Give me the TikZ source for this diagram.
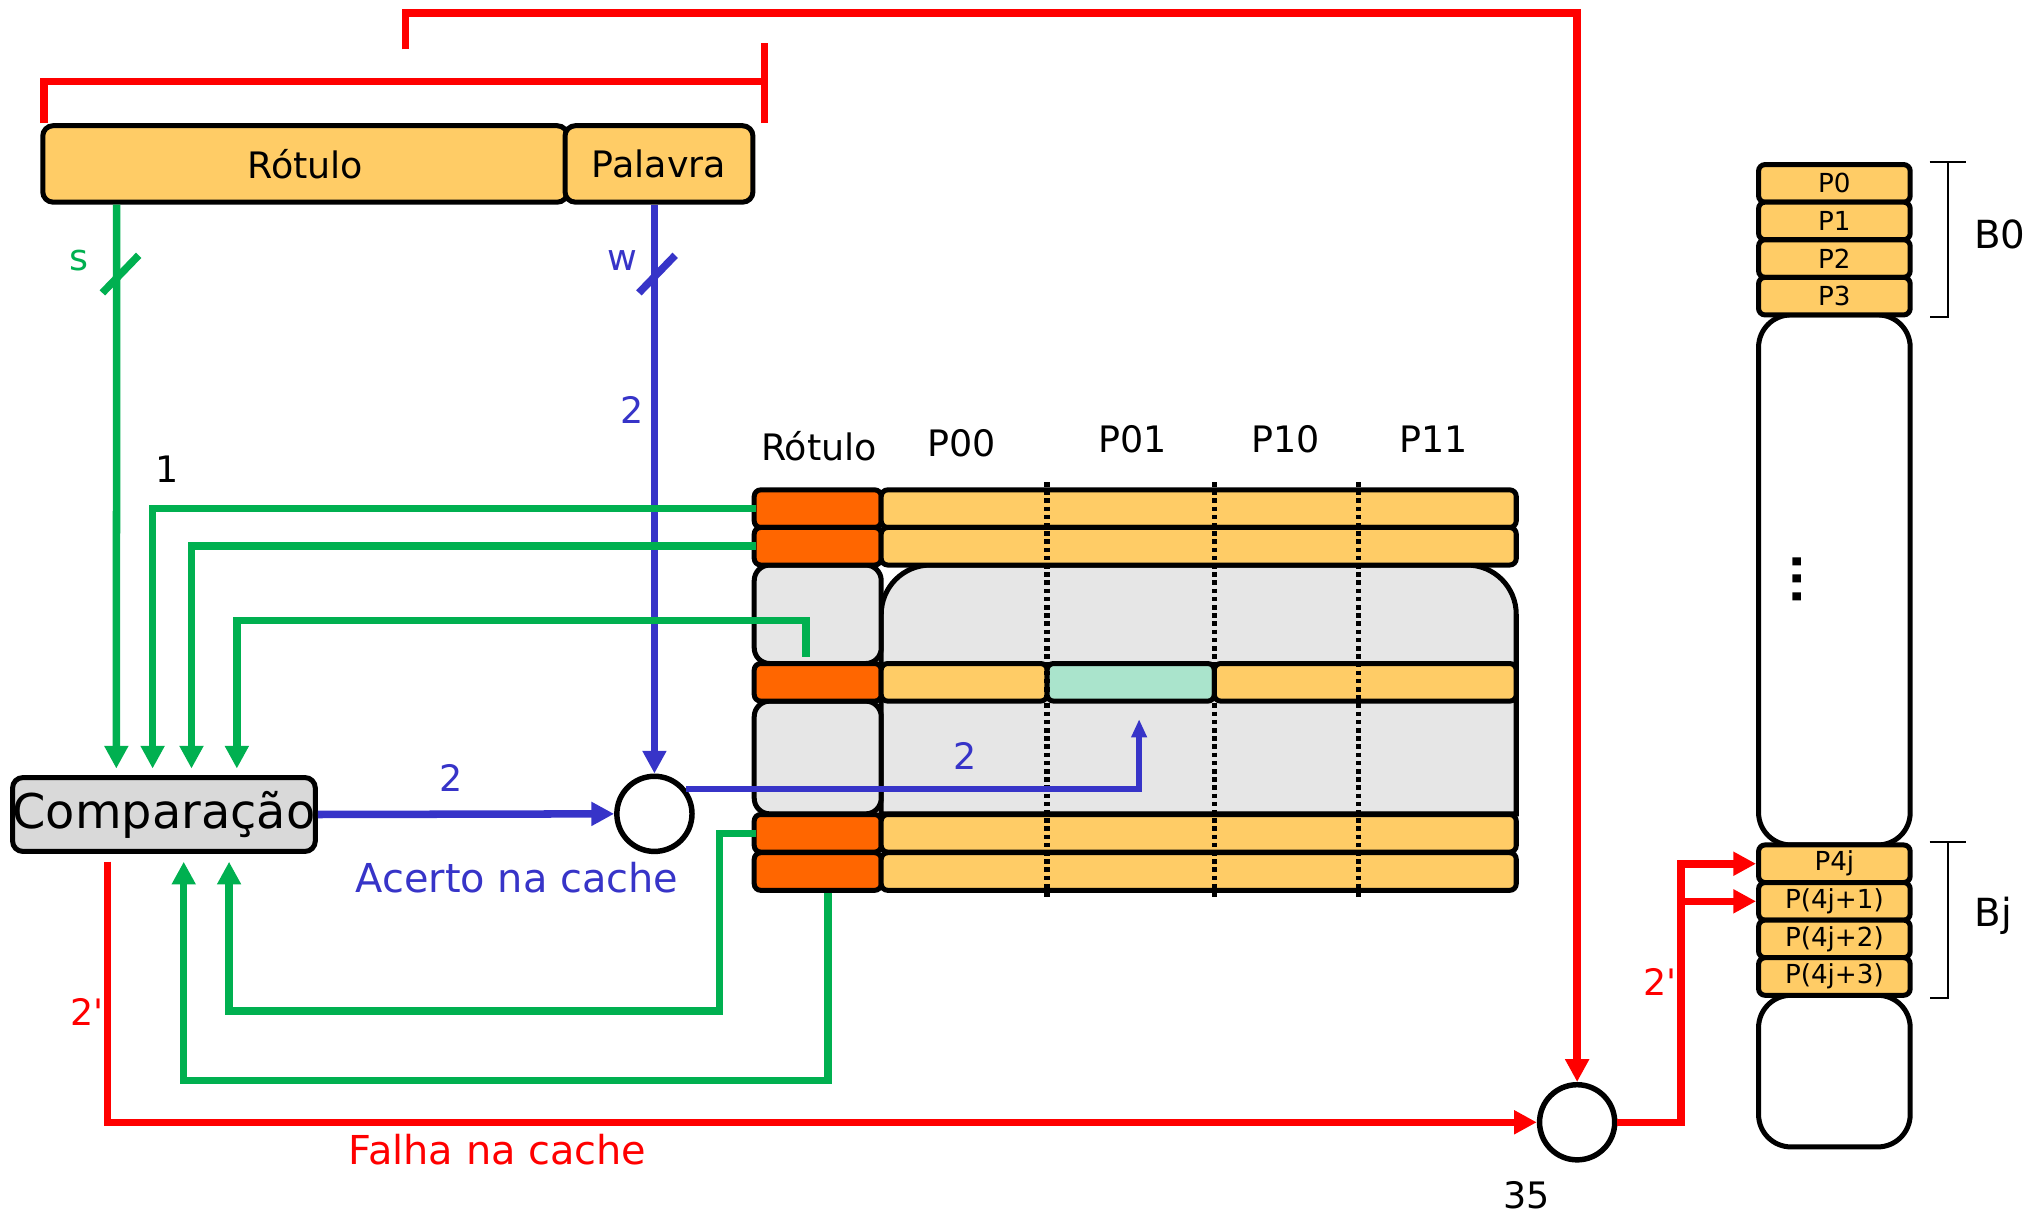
\documentclass[tikz,border=0pt]{standalone}
\usepackage{fontspec}
\setmainfont{DejaVu Sans}
\usetikzlibrary{arrows.meta,positioning,calc}
\definecolor{wheat}{RGB}{255,204,102}
\definecolor{tagred}{RGB}{255,102,0}
\definecolor{fog}{RGB}{230,230,230}
\definecolor{cmpgray}{RGB}{217,217,217}
\definecolor{mint}{RGB}{170,228,204}
\definecolor{leaf}{RGB}{0,176,80}
\definecolor{indigo}{RGB}{55,52,200}
\definecolor{signal}{RGB}{255,0,0}
\tikzset{
  >={Triangle[length=10pt,width=10pt]},
  field/.style={draw=black,fill=wheat,line width=2.2pt,rounded corners=1.6mm,inner sep=0pt,
    minimum height=11.8mm,font=\fontsize{16}{18}\selectfont},
  cell/.style={draw=black,fill=#1,line width=2.2pt,rounded corners=1mm,inner sep=0pt,minimum height=5.8mm},
  cell/.default=wheat,
  word/.style={cell,minimum width=23.4mm,font=\fontsize{11.5}{13}\selectfont},
  block/.style={draw=black,fill=white,line width=2.2pt,rounded corners=5mm,inner sep=0pt,minimum width=23.4mm},
  junction/.style={circle,draw=black,line width=2.4pt,fill=white,minimum size=11.6mm,inner sep=0pt},
  bus/.style={line width=3.3pt,draw=#1},
  bus/.default=leaf,
  lbl/.style={font=\fontsize{16}{18}\selectfont,text=#1,inner sep=0pt},
  lbl/.default=black,
  divider/.style={line width=2.3pt,dash pattern=on 2pt off 1.6pt},
  bline/.style={line width=0.9pt},
}

\begin{document}
\begin{tikzpicture}[x=0.2mm,y=-0.2mm]
  \useasboundingbox (0,0) rectangle (1568,936);
  % address fields
  \node[field,minimum width=81mm] (rot) at (235.5,126.5) {Rótulo};
  \node[field,minimum width=29mm] (pal) at (508.5,126.5) {Palavra};

  % cache lines
  \filldraw[fill=fog,line width=2.2pt] (680,628) -- (680,474) .. controls (680,453) and (697,436) .. (718,436)
    -- (1132,436) .. controls (1153,436) and (1170,453) .. (1170,474) -- (1170,628) -- cycle;
  \foreach \n/\y/\h in {1/474/15.2mm,2/584.5/17.4mm}
    \node[cell=fog,rounded corners=2.4mm,minimum width=19.6mm,minimum height=\h] (tg\n) at (631,\y) {};
  \foreach \n/\y in {1/392.5,2/421.5,3/526.5,4/643,5/672.5}
    \node[cell=tagred,minimum width=19.6mm] (t\n) at (631,\y) {};
  \foreach \n/\y in {1/392.5,2/421.5,4/643,5/672.5}
    \node[cell,minimum width=98mm] (d\n) at (925,\y) {};
  \node[cell,minimum width=25.6mm] (d3a) at (744,526.5) {};
  \node[cell=mint,minimum width=25.8mm] (d3b) at (872.5,526.5) {};
  \node[cell,minimum width=46.6mm] (d3c) at (1053.5,526.5) {};
  \foreach \x in {808,937,1048}
    \draw[divider] (\x,372) -- (\x,692);
  \foreach \t/\x/\y in {Rótulo/632/344,P00/742/342,P01/874/339,P10/992/339,P11/1106/339}
    \node[lbl] (h\x) at (\x,\y) {\t};

  % comparator and switches
  \node[draw,fill=cmpgray,line width=2.2pt,rounded corners=1.6mm,minimum width=46.6mm,minimum height=11.4mm,
    inner sep=0pt,font=\fontsize{21}{22}\selectfont] (cmp) at (126.5,628.5) {Comparação};
  \node[junction] (hit) at (505,628) {};
  \node[junction] (miss) at (1217,866) {};

  % main memory
  \node[block,minimum height=81.8mm] (gap1) at (1415.5,447.5) {};
  \node[block,minimum height=23.4mm] (gap2) at (1415.5,826.5) {};
  \foreach \n/\y in {0/141.5,1/170.5,2/199.5,3/228.5}
    \node[word] (m\n) at (1415.5,\y) {P\n};
  \foreach \t [count=\i from 0] in {P4j,P(4j+1),P(4j+2),P(4j+3)}
    \node[word] (mj\i) at (1415.5,666.5+29*\i) {\t};
  \node[rotate=90,font=\fontsize{20}{20}\selectfont\bfseries,inner sep=0pt] (vdots) at (1387,447) {...};
  \draw[bline] ([xshift=2.6mm]m0.north east) -- ++(28,0) ([xshift=5.4mm]m0.north east)
    -- ([xshift=5.4mm]m3.south east) -- ([xshift=2.6mm]m3.south east);
  \draw[bline] ([xshift=2.6mm]mj0.north east) -- ++(28,0) ([xshift=5.4mm]mj0.north east)
    -- ([xshift=5.4mm]mj3.south east) -- ([xshift=2.6mm]mj3.south east);
  \node[lbl,font=\fontsize{17}{19}\selectfont] (b0) at (1543,181) {B0};
  \node[lbl,font=\fontsize{17}{19}\selectfont] (bj) at (1538,707) {Bj};

  % word select and hit path
  \draw[bus=indigo,->] (pal.south -| hit.north) -- (hit.north);
  \draw[bus=indigo] (493,226) -- (521,197);
  \draw[bus=indigo,->] (cmp.east) -- (hit.west);
  \draw[bus=indigo,line width=2.4pt,-{Triangle[length=8pt,width=6.5pt]}] (hit.38) -| ([xshift=1.3mm,yshift=-2.4mm]d3b.south);

  % tag compare
  \draw[bus,->] ([xshift=11.8mm]rot.south west) -- ([xshift=16.4mm,yshift=1mm]cmp.north west);
  \draw[bus] (79,226) -- (107,197);
  \draw[bus,->] ([xshift=0.6mm]t1.west) -| ([xshift=22mm,yshift=1mm]cmp.north west);
  \draw[bus,->] ([xshift=0.6mm]t2.west) -| ([xshift=28mm,yshift=1mm]cmp.north west);
  \draw[bus,->] ([xshift=-1.8mm,yshift=1.4mm]tg1.south) -- ++(0,-28) -| ([xshift=35mm,yshift=1mm]cmp.north west);
  \draw[bus,->] ([xshift=0.6mm]t4.west) -- ++(-28,0) -- ++(0,137) -| ([xshift=33.8mm,yshift=-1.2mm]cmp.south west);
  \draw[bus,->] ([xshift=1.6mm]t5.south) -- ++(0,145) -| ([xshift=26.8mm,yshift=-1.2mm]cmp.south west);

  % miss path
  \draw[bus=signal] ([xshift=0.6mm]rot.north west) -- ++(0,-32) -| ([xshift=1.4mm]pal.north east);
  \draw[bus=signal] ([xshift=1.4mm]pal.north east) -- ++(0,-62);
  \coordinate (addr) at (313,38);
  \draw[bus=signal,->] (addr) -- ++(0,-28) -| (miss.north);
  \draw[bus=signal,->] ([xshift=15mm,yshift=-1.2mm]cmp.south west) |- (miss.west);
  \draw[bus=signal,->] (miss.east) -| ([xshift=-11.6mm]mj0.west) -- (mj0.west);
  \draw[bus=signal,->] ([xshift=-11.6mm]mj1.west) -- (mj1.west);

  % labels
  \node[lbl=leaf] (ls) at (61,201) {s};
  \node[lbl=indigo] (lw) at (480,201) {w};
  \node[lbl=indigo] (l2a) at (488,316) {2};
  \node[lbl] (l1) at (129,362) {1};
  \node[lbl=indigo] (l2b) at (348,600) {2};
  \node[lbl=indigo,font=\fontsize{17.5}{19}\selectfont] (hitlbl) at (399,677) {Acerto na cache};
  \node[lbl=indigo] (l2c) at (745,583) {2};
  \node[lbl=signal] (l2d) at (67,781) {2\textquotesingle};
  \node[lbl=signal,font=\fontsize{17.5}{19}\selectfont] (misslbl) at (384,887) {Falha na cache};
  \node[lbl] (l35) at (1178,922) {35};
  \node[lbl=signal] (l2e) at (1281,758) {2\textquotesingle};
\end{tikzpicture}
\end{document}
